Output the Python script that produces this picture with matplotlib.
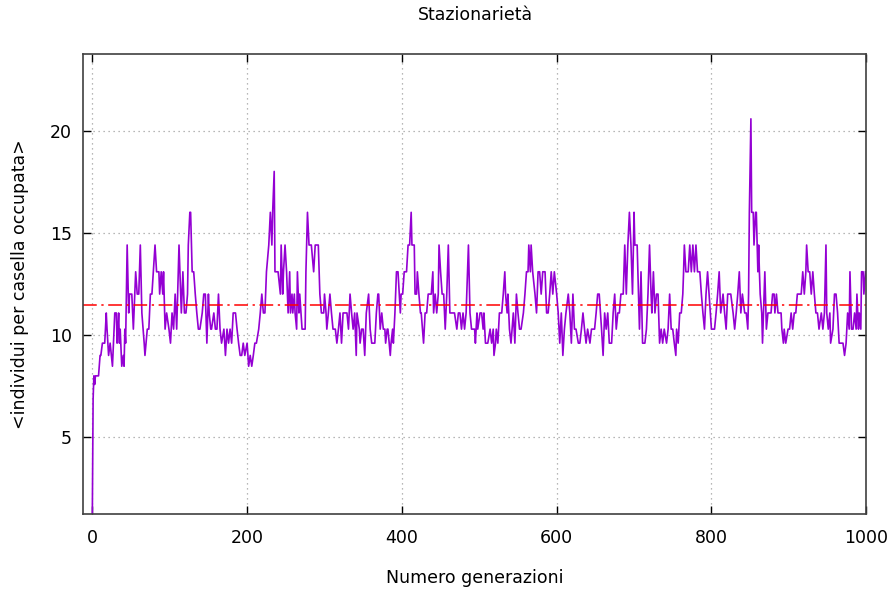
import matplotlib
matplotlib.use("Agg")
import matplotlib.pyplot as plt
import numpy as np

# total individuals; y = individuals / occupied cells
N_INDIVIDUALS = 144
MEAN_LEVEL = 11.45

# generation index of each sample
gens = [
    0, 1, 2, 3, 4, 6, 8, 10, 11, 13, 16, 18, 19, 21, 23, 26, 28, 29, 31, 32,
    33, 34, 35, 36, 38, 40, 41, 42, 43, 45, 47, 48, 51, 53, 56, 58, 60, 62, 64, 67,
    68, 71, 73, 75, 77, 81, 83, 86, 87, 89, 91, 92, 94, 96, 99, 101, 103, 105,
    107, 109, 112, 115, 117, 119, 121, 123, 124, 126, 127, 129, 131, 133, 135, 137, 139, 142,
    144, 146, 148, 150, 151, 153, 154, 157, 159, 161, 163, 165, 167, 170, 172, 174, 176, 178,
    180, 182, 185, 187, 189, 191, 193, 195, 197, 200, 202, 204, 206, 208, 210, 212, 215, 217,
    219, 221, 223, 225, 228,
    230, 232, 233, 235, 236, 238, 240, 243, 244, 246, 247, 249, 251, 253, 255, 256, 258, 259,
    261, 262, 264, 265, 267, 268, 271, 273, 275, 276, 278, 280, 281, 283, 286, 288, 290, 292,
    294, 296, 299, 300, 302, 303, 305, 307, 309, 311, 314, 316, 318, 320, 322, 324, 327, 329,
    331, 333, 335, 337, 339, 341, 342, 345, 346, 348, 350,
    352, 354, 357, 359, 361, 363, 365, 367, 369, 370, 372, 374, 376, 378, 379, 381, 382, 385,
    386, 388, 389, 391, 393, 395, 398, 399, 401, 403, 404, 406, 408, 410, 412, 413, 416, 417,
    419, 420, 422, 424, 425, 428, 430, 432, 434, 436, 438, 440, 441, 443, 445, 447, 448, 450,
    452, 454, 456, 458, 460, 462, 464, 466, 468, 471, 473,
    475, 477, 479, 481, 483, 486, 488, 490, 492, 494, 495, 497, 498, 501, 503, 505, 506, 508,
    509, 511, 514, 516, 518, 519, 521, 522, 524, 526, 529, 531, 533, 534, 536, 537, 539, 541,
    544, 546, 548, 550, 552, 554, 557, 559, 561, 563, 564, 566, 567, 569, 572, 574, 576, 578,
    580, 582, 585, 587, 589, 591, 593, 595,
    597, 600, 602, 604, 606, 608, 610, 612, 615, 617, 619, 621, 623, 625, 628, 630, 632, 634,
    636, 638, 640, 643, 645, 647, 649, 651, 653, 655, 658, 660, 662, 664, 666, 668, 671, 673,
    675, 677, 679, 681, 683, 686, 688, 690, 692, 694, 696, 698, 700, 701, 704, 705, 707, 709,
    711, 714, 716, 718,
    720, 722, 723, 725, 727, 729, 731, 733, 735, 737, 739, 742, 744, 746, 748, 750, 752, 754,
    755, 757, 759, 761, 763, 764, 765, 767, 770, 772, 774, 776, 778, 780, 782, 785, 787, 789,
    791, 793, 795, 797, 800, 802, 804, 806, 808, 810, 812, 815, 817, 819, 821, 823, 825, 828,
    830, 832, 834, 836, 838, 840,
    843, 845, 847, 848, 849, 851, 852, 854, 855, 857, 858, 860, 861, 862, 863, 865, 866, 868,
    869, 871, 873, 875, 877, 879, 881, 882, 884, 886, 888, 890, 891, 893, 894, 896, 899, 901,
    903, 905, 907, 909, 911, 914, 916, 918, 920, 922, 923, 925, 927, 929, 931, 933, 935, 937,
    939, 942, 944, 946, 948, 949, 951, 953, 954, 957, 959, 961, 963, 965, 967, 970, 972, 974,
    976, 978, 979, 981, 983, 985, 987, 988, 990, 991, 993, 994, 996, 997, 999,
]

# occupied cells at each sampled generation
cells = [
    115, 21, 18, 19, 18, 18, 18, 16, 16, 15, 15, 13, 14, 16, 15, 17, 14, 13, 13, 15,
    14, 13, 15, 14, 17, 16, 17, 14, 15, 10, 13, 12, 12, 14, 11, 12, 12, 10, 13, 15,
    16, 14, 14, 12, 12, 10, 11, 11, 12, 11, 12, 11, 14, 13, 14, 15, 13, 14,
    12, 14, 10, 13, 11, 13, 13, 12, 10, 9, 9, 11, 11, 12, 13, 14, 14, 13,
    12, 12, 15, 12, 13, 14, 14, 13, 14, 14, 12, 14, 15, 14, 16, 14, 15, 14,
    15, 13, 13, 14, 15, 16, 16, 15, 16, 15, 17, 16, 17, 16, 15, 15, 14, 13,
    12, 13, 13, 11, 10,
    9, 10, 9, 8, 11, 11, 11, 12, 10, 12, 11, 10, 11, 13, 11, 13, 12, 13,
    12, 13, 14, 11, 13, 12, 14, 14, 14, 11, 9, 10, 10, 10, 11, 10, 10, 10,
    12, 13, 13, 12, 13, 14, 13, 12, 13, 14, 14, 15, 14, 13, 15, 13, 13, 13,
    14, 12, 13, 14, 13, 16, 13, 14, 15, 14, 14,
    16, 13, 12, 14, 15, 15, 15, 13, 12, 12, 14, 13, 14, 14, 15, 14, 14, 16,
    15, 14, 15, 13, 11, 11, 13, 12, 12, 11, 11, 11, 10, 10, 9, 10, 10, 12,
    12, 11, 12, 13, 13, 15, 13, 13, 12, 12, 12, 11, 13, 12, 13, 12, 10, 11,
    12, 12, 14, 12, 10, 13, 13, 13, 13, 14, 13,
    13, 14, 13, 14, 13, 10, 13, 14, 14, 14, 15, 13, 14, 13, 13, 14, 13, 15,
    15, 15, 14, 15, 14, 16, 15, 14, 15, 13, 13, 12, 11, 12, 13, 12, 14, 15,
    13, 15, 12, 13, 14, 14, 13, 12, 11, 11, 10, 11, 10, 11, 12, 13, 11, 11,
    12, 11, 11, 13, 13, 12, 11, 12,
    11, 12, 13, 15, 13, 16, 14, 13, 12, 13, 15, 12, 14, 14, 15, 15, 14, 13,
    14, 15, 14, 15, 14, 14, 14, 13, 12, 12, 14, 16, 13, 14, 13, 15, 15, 13,
    12, 14, 13, 13, 12, 12, 10, 12, 10, 9, 10, 12, 9, 10, 10, 11, 14, 11,
    15, 15, 14, 12,
    10, 12, 13, 11, 13, 12, 12, 15, 14, 15, 14, 15, 14, 12, 14, 14, 15, 16,
    14, 15, 13, 13, 12, 11, 10, 11, 11, 10, 11, 10, 11, 10, 11, 11, 12, 13,
    14, 12, 11, 12, 14, 14, 14, 13, 12, 11, 13, 12, 13, 14, 12, 12, 12, 13,
    14, 13, 12, 11, 13, 12,
    13, 13, 14, 12, 9, 7, 9, 9, 10, 9, 9, 11, 10, 11, 12, 13, 15, 12,
    11, 14, 13, 13, 13, 12, 12, 13, 12, 13, 13, 13, 14, 15, 14, 15, 14, 14,
    13, 14, 13, 13, 12, 12, 12, 11, 12, 11, 10, 11, 11, 12, 11, 12, 13, 13,
    14, 13, 14, 13, 10, 13, 14, 13, 15, 14, 12, 12, 13, 15, 15, 15, 16, 15,
    13, 14, 11, 14, 14, 13, 14, 12, 14, 13, 14, 11, 11, 12, 11,
]

x = np.array(gens)
y = N_INDIVIDUALS / np.array(cells, dtype=float)

plt.rcParams["font.family"] = "DejaVu Sans"
plt.rcParams["font.size"] = 12.5

fig = plt.figure(figsize=(8.93, 5.92), dpi=100)
ax = fig.add_axes([0.093, 0.132, 0.877, 0.777])

ax.plot(x, y, color="#9400d3", linewidth=1.2)
ax.axhline(MEAN_LEVEL, color="#ff0000", linewidth=1.1, linestyle=(0, (9, 3, 1.5, 3)))

ax.set_xlim(-12, 1000)
ax.set_ylim(1.25, 23.75)
ax.set_xticks([0, 200, 400, 600, 800, 1000])
ax.set_yticks([5, 10, 15, 20])

ax.grid(True, color="#a0a0a0", linestyle=(0, (1, 3)), linewidth=0.9)
ax.tick_params(direction="in", top=True, right=True, length=6, width=1, labelsize=12.5)
ax.tick_params(axis="x", pad=11)
ax.tick_params(axis="y", pad=8)
for s in ax.spines.values():
    s.set_linewidth(1.2)
    s.set_color("#404040")

ax.set_xlabel("Numero generazioni", labelpad=16)
ax.set_ylabel("<individui per casella occupata>", labelpad=15)
fig.text(0.532, 0.975, "Stazionarietà", ha="center", va="center", fontsize=12.5)

fig.savefig("out.png", dpi=100)
